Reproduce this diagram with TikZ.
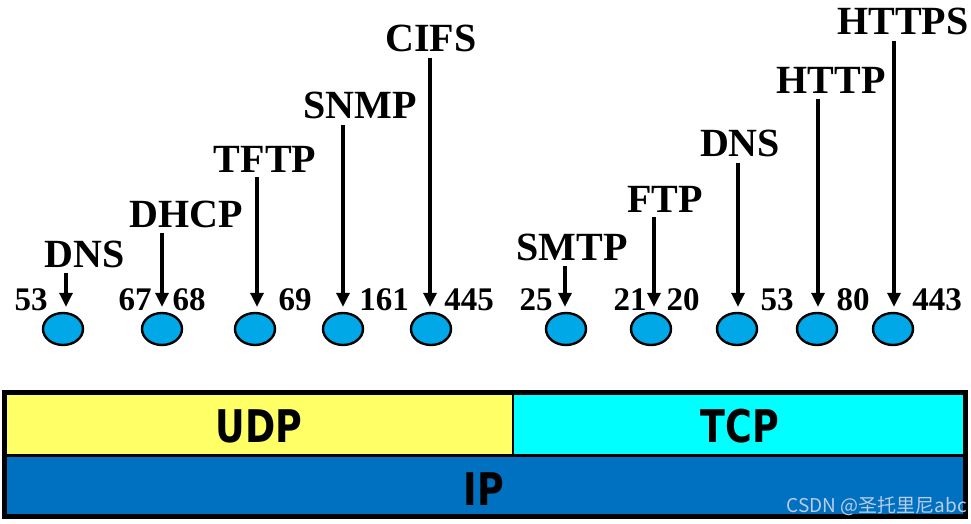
\documentclass[tikz,border=0pt]{standalone}
\usepackage{fontspec}
\usepackage{graphicx}
\setmainfont{Liberation Serif}
\newfontfamily\barfont{DejaVu Sans}
\newfontfamily\cjkfont{Noto Sans CJK SC}
\usetikzlibrary{arrows.meta,shapes.geometric}
\definecolor{udpyellow}{RGB}{255,255,102}
\definecolor{tcpcyan}{RGB}{0,255,255}
\definecolor{ipblue}{RGB}{0,112,192}
\definecolor{portblue}{RGB}{0,168,232}
\definecolor{wmcolor}{RGB}{185,205,230}
\tikzset{
  port/.style={ellipse, draw=black, line width=2.4pt, fill=portblue, minimum width=40pt, minimum height=32pt, inner sep=0pt},
  proto/.style={anchor=base, inner sep=0pt, font=\fontsize{40}{44}\selectfont\bfseries},
  num/.style={anchor=base, inner sep=0pt, font=\fontsize{33}{36}\selectfont\bfseries},
  barlabel/.style={inner sep=0pt},
  arr/.style={line width=3.2pt, -{Triangle[width=13pt,length=14pt]}},
}
\newcommand{\barlabeltext}[1]{\barfont\bfseries\fontsize{45}{50}\selectfont\scalebox{0.81}[1]{#1}}
\begin{document}
\begin{tikzpicture}[x=1pt,y=-1pt]
\useasboundingbox (0,0) rectangle (971,524);
\fill[white] (0,0) rectangle (971,524);

% bars
\fill[udpyellow] (4,392.5) rectangle (513,455);
\fill[tcpcyan] (513,392.5) rectangle (965,455);
\fill[ipblue] (4,455) rectangle (965,516);
\draw[line width=2pt] (513,392.5) -- (513,455);
\draw[line width=3pt] (4,455) -- (965,455);
\draw[line width=5pt] (4,392.5) rectangle (965,516);
\node[barlabel] (udp) at (259,426.5) {\barlabeltext{UDP}};
\node[barlabel] (tcp) at (740,426.5) {\barlabeltext{TCP}};
\node[barlabel] (ip) at (484,489) {\barlabeltext{IP}};
\node[anchor=base east, inner sep=0pt, text=wmcolor] (wm) at (967,512) {\cjkfont\fontsize{19}{21}\selectfont CSDN @圣托里尼abc};

% ports
\node[port] (c1) at (63,329) {};
\node[port] (c2) at (162,329) {};
\node[port] (c3) at (255,329) {};
\node[port] (c4) at (343,329) {};
\node[port] (c5) at (431,329) {};
\node[port] (c6) at (566,329) {};
\node[port] (c7) at (651,329) {};
\node[port] (c8) at (737,329) {};
\node[port] (c9) at (817,329) {};
\node[port] (c10) at (893,329) {};

% numbers
\node[num] (n1) at (31,310) {53};
\node[num] (n2a) at (135,310) {67};
\node[num] (n2b) at (189,310) {68};
\node[num] (n3) at (295,310) {69};
\node[num] (n4) at (384,310) {161};
\node[num] (n5) at (469,310) {445};
\node[num] (n6) at (536,310) {25};
\node[num] (n7a) at (630,310) {21};
\node[num] (n7b) at (683,310) {20};
\node[num] (n8) at (777,310) {53};
\node[num] (n9) at (853,310) {80};
\node[num] (n10) at (937,310) {443};

% protocol labels
\node[proto] (l1) at (85,267) {DNS};
\node[proto] (l2) at (186,227) {DHCP};
\node[proto] (l3) at (265,172) {TFTP};
\node[proto] (l4) at (360,119) {SNMP};
\node[proto] (l5) at (431,52) {CIFS};
\node[proto] (l6) at (572,260) {SMTP};
\node[proto] (l7) at (665,212) {FTP};
\node[proto] (l8) at (740,157) {DNS};
\node[proto] (l9) at (831,94) {HTTP};
\node[proto] (l10) at (903,35) {HTTPS};

% arrows
\foreach \l/\c/\dx in {l1/c1/3, l2/c2/0, l3/c3/2, l4/c4/0, l5/c5/-1, l6/c6/-1, l7/c7/3, l8/c8/1, l9/c9/1, l10/c10/1}{
  \draw[arr] ([xshift=\dx pt, yshift=-5pt]\c.north |- \l.south) -- ([xshift=\dx pt, yshift=5pt]\c.north);
}
\end{tikzpicture}
\end{document}
